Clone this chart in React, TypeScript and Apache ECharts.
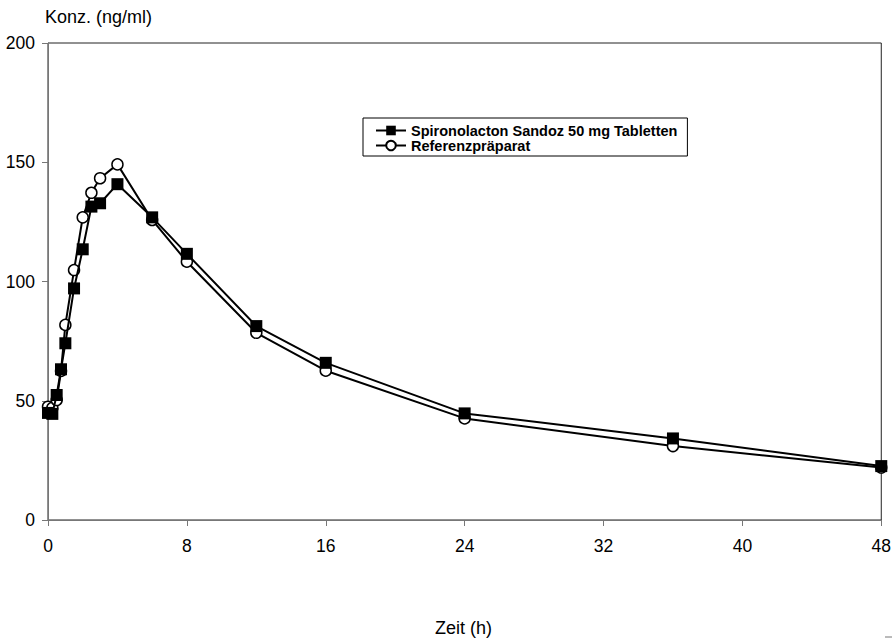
import React, { useEffect, useRef } from "react";
import * as echarts from "echarts";

const hours = [0, 0.25, 0.5, 0.75, 1, 1.5, 2, 2.5, 3, 4, 6, 8, 12, 16, 24, 36, 48];
const sandoz = [44.9, 44.5, 52.4, 63.2, 74.1, 97.1, 113.5, 131.4, 132.8, 140.8, 126.9, 111.6, 81.3, 65.9, 44.7, 34.2, 22.6];
const referenz = [47.5, 47.0, 50.3, 62.5, 81.8, 104.8, 126.9, 137.2, 143.3, 149.1, 125.8, 108.3, 78.5, 62.6, 42.6, 31.0, 22.0];
const seriesNames = ["Spironolacton Sandoz 50 mg Tabletten", "Referenzpräparat"];
const yTitle = "Konz. (ng/ml)";
const xTitle = "Zeit (h)";

const FONT = "'Liberation Sans', Arial, sans-serif";

export default function App() {
  const ref = useRef<HTMLDivElement>(null);
  useEffect(() => {
    if (!ref.current) return;
    const chart = echarts.init(ref.current, null, { renderer: "svg" });
    const toPairs = (vals: number[]) => hours.map((h, i) => [h, vals[i]]);
    chart.setOption({
      animation: false,
      backgroundColor: "#ffffff",
      textStyle: { fontFamily: FONT },
      grid: {
        left: 48,
        right: 12,
        top: 43,
        bottom: 119,
        show: true,
        borderColor: "#222",
        borderWidth: 1,
        backgroundColor: "transparent",
      },
      xAxis: {
        type: "value",
        min: 0,
        max: 48,
        interval: 8,
        axisLine: { show: true, lineStyle: { color: "#777", width: 1 } },
        axisTick: { show: true, length: 6, lineStyle: { color: "#777" } },
        axisLabel: { color: "#000", fontSize: 17.5, fontFamily: FONT, margin: 17 },
        splitLine: { show: false },
      },
      yAxis: {
        type: "value",
        min: 0,
        max: 200,
        interval: 50,
        axisLine: { show: true, lineStyle: { color: "#777", width: 1 } },
        axisTick: { show: true, length: 6, lineStyle: { color: "#777" } },
        axisLabel: { color: "#000", fontSize: 17.5, fontFamily: FONT, margin: 13 },
        splitLine: { show: false },
      },
      legend: {
        orient: "vertical",
        left: 363,
        top: 118,
        data: seriesNames,
        backgroundColor: "#fff",
        borderColor: "#000",
        borderWidth: 1,
        padding: [5, 10, 3, 12],
        itemGap: 0,
        itemWidth: 30,
        itemHeight: 12,
        textStyle: {
          color: "#000",
          fontSize: 14.5,
          fontWeight: "bold",
          fontFamily: FONT,
          lineHeight: 15,
        },
      },
      graphic: [
        {
          type: "text",
          left: 45,
          top: 8,
          style: { text: yTitle, font: `18px ${FONT}`, fill: "#000" },
        },
        {
          type: "text",
          left: 435,
          top: 619,
          style: { text: xTitle, font: `18px ${FONT}`, fill: "#000" },
        },
        {
          type: "line",
          shape: { x1: 885, y1: 637, x2: 892, y2: 637 },
          style: { stroke: "#777", lineWidth: 1 },
        },
      ],
      series: [
        {
          name: seriesNames[1],
          type: "line",
          data: toPairs(referenz),
          symbol: "circle",
          symbolSize: 11,
          z: 2,
          lineStyle: { color: "#000", width: 2 },
          itemStyle: { color: "#fff", borderColor: "#000", borderWidth: 1.5 },
        },
        {
          name: seriesNames[0],
          type: "line",
          data: toPairs(sandoz),
          symbol: "rect",
          symbolSize: 12,
          z: 3,
          lineStyle: { color: "#000", width: 2 },
          itemStyle: { color: "#000", borderColor: "#000", borderWidth: 0 },
        },
      ],
    });
    return () => chart.dispose();
  }, []);
  return (
    <div
      ref={ref}
      style={{ position: "absolute", left: 0, top: 0, width: 894, height: 639 }}
    />
  );
}
